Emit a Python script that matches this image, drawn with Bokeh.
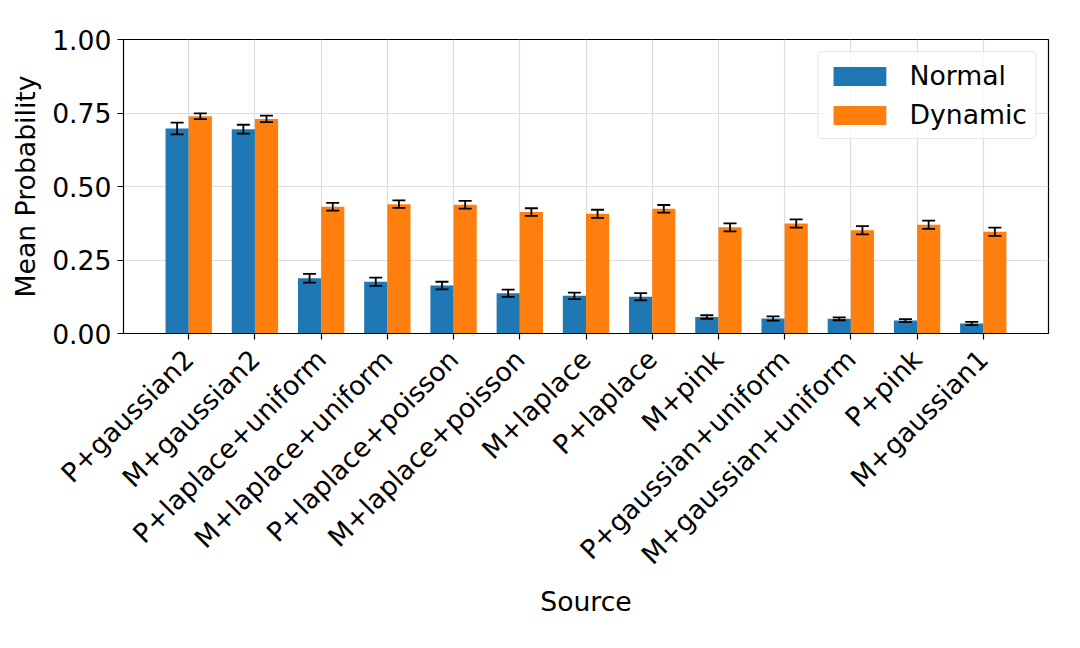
import math
from bokeh.plotting import figure
from bokeh.models import ColumnDataSource, Whisker, TeeHead, FixedTicker, Range1d, Legend, LegendItem, PrintfTickFormatter
from bokeh.embed import file_html
from bokeh.resources import INLINE

categories = ["P+gaussian2", "M+gaussian2", "P+laplace+uniform", "M+laplace+uniform",
              "P+laplace+poisson", "M+laplace+poisson", "M+laplace", "P+laplace",
              "M+pink", "P+gaussian+uniform", "M+gaussian+uniform", "P+pink", "M+gaussian1"]
normal_mean = [0.697, 0.695, 0.188, 0.176, 0.163, 0.137, 0.128, 0.125, 0.056, 0.051, 0.050, 0.044, 0.034]
normal_err = [0.020, 0.015, 0.015, 0.014, 0.013, 0.0125, 0.011, 0.0125, 0.006, 0.007, 0.005, 0.005, 0.0055]
dynamic_mean = [0.739, 0.730, 0.431, 0.440, 0.438, 0.413, 0.407, 0.424, 0.361, 0.374, 0.351, 0.370, 0.346]
dynamic_err = [0.010, 0.011, 0.013, 0.013, 0.013, 0.013, 0.014, 0.013, 0.0135, 0.014, 0.014, 0.014, 0.014]

BW = 0.35
FONT = "DejaVu Sans"
FS = "26.67px"

idx = list(range(len(categories)))
src_n = ColumnDataSource(dict(
    x=[i - BW / 2 for i in idx], top=normal_mean,
    lo=[m - e for m, e in zip(normal_mean, normal_err)],
    hi=[m + e for m, e in zip(normal_mean, normal_err)]))
src_d = ColumnDataSource(dict(
    x=[i + BW / 2 for i in idx], top=dynamic_mean,
    lo=[m - e for m, e in zip(dynamic_mean, dynamic_err)],
    hi=[m + e for m, e in zip(dynamic_mean, dynamic_err)]))

p = figure(width=1064, height=632, output_backend="svg", toolbar_location=None,
           x_range=Range1d(-0.985, len(categories) - 1 + 0.985), y_range=Range1d(0, 1.0),
           min_border_left=123, min_border_right=16, min_border_top=39, min_border_bottom=299)

p.background_fill_color = "white"
p.border_fill_color = "white"
p.outline_line_color = "black"
p.outline_line_width = 1.2

rn = p.vbar(x="x", top="top", width=BW, bottom=0, source=src_n, fill_color="#1f77b4", line_color=None)
rd = p.vbar(x="x", top="top", width=BW, bottom=0, source=src_d, fill_color="#ff7f0e", line_color=None)

for s in (src_n, src_d):
    w = Whisker(base="x", lower="lo", upper="hi", source=s, line_color="black", line_width=1.8,
                upper_head=TeeHead(size=13, line_color="black", line_width=1.8),
                lower_head=TeeHead(size=13, line_color="black", line_width=1.8),
                level="annotation")
    p.add_layout(w)

p.xaxis.ticker = FixedTicker(ticks=idx)
p.xaxis.major_label_overrides = {i: c for i, c in enumerate(categories)}
p.xaxis.major_label_orientation = math.pi / 4
p.yaxis.ticker = FixedTicker(ticks=[0, 0.25, 0.5, 0.75, 1.0])
p.yaxis.formatter = PrintfTickFormatter(format="%.2f")

for ax in (p.xaxis, p.yaxis):
    ax.major_label_text_font = FONT
    ax.major_label_text_font_size = FS
    ax.major_label_text_color = "black"
    ax.axis_label_text_font = FONT
    ax.axis_label_text_font_size = FS
    ax.axis_label_text_font_style = "normal"
    ax.axis_label_text_color = "black"
    ax.axis_line_color = "black"
    ax.major_tick_line_color = "black"
    ax.major_tick_line_width = 1.2
    ax.major_tick_out = 6
    ax.major_tick_in = 0
    ax.minor_tick_line_color = None
    ax.major_label_standoff = 6

p.xaxis.major_label_standoff = 15
p.xaxis.axis_label = "Source"
p.yaxis.axis_label = "Mean Probability"
p.xaxis.axis_label_standoff = 2
p.yaxis.axis_label_standoff = 8

p.xgrid.grid_line_color = "#dddddd"
p.ygrid.grid_line_color = "#dddddd"
p.xgrid.grid_line_width = 1.2
p.ygrid.grid_line_width = 1.2

legend = Legend(items=[LegendItem(label="Normal", renderers=[rn]),
                       LegendItem(label="Dynamic", renderers=[rd])],
                location="top_right")
legend.label_text_font = FONT
legend.label_text_font_size = FS
legend.label_text_color = "black"
legend.glyph_width = 66
legend.glyph_height = 24
legend.label_height = 24
legend.spacing = 8
legend.padding = 8
legend.margin = 12
legend.label_standoff = 17
legend.border_line_color = "#cccccc"
legend.border_line_width = 1.2
legend.border_radius = 5
legend.background_fill_alpha = 0.8
p.add_layout(legend)

open("out.html", "w").write(file_html(p, INLINE))
